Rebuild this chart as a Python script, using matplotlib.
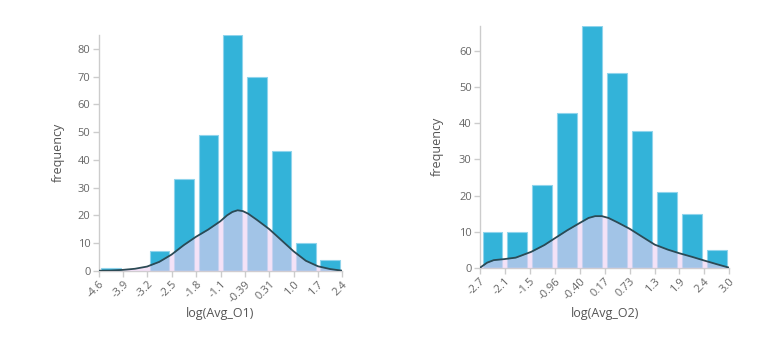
import numpy as np
import matplotlib
matplotlib.use("Agg")
import matplotlib.pyplot as plt

plt.rcParams['font.family'] = ['Open Sans', 'DejaVu Sans']

# log(Avg_O1) histogram
o1_lo, o1_bin = -4.59, 0.70
o1_counts = [1, 0, 7, 33, 49, 85, 70, 43, 10, 4]
o1_ticks = ["-4.6", "-3.9", "-3.2", "-2.5", "-1.8", "-1.1", "-0.39", "0.31", "1.0", "1.7", "2.4"]
o1_kde_x = [-4.59, -4.25, -3.9, -3.55, -3.2, -2.85, -2.5, -2.15, -1.8, -1.45, -1.1, -0.9,
            -0.75, -0.6, -0.45, -0.3, -0.04, 0.31, 0.66, 1.01, 1.36, 1.71, 2.06, 2.41]
o1_kde_y = [0, 0.05, 0.3, 0.7, 1.5, 3.2, 5.8, 9.2, 12.2, 14.8, 17.8, 20.0,
            21.2, 21.8, 21.5, 20.6, 18.3, 15.0, 11.0, 7.0, 3.6, 1.6, 0.6, 0]

# log(Avg_O2) histogram
o2_lo, o2_bin = -2.66, 0.565
o2_counts = [10, 10, 23, 43, 67, 54, 38, 21, 15, 5]
o2_ticks = ["-2.7", "-2.1", "-1.5", "-0.96", "-0.40", "0.17", "0.73", "1.3", "1.9", "2.4", "3.0"]
o2_kde_x = [-2.66, -2.5, -2.35, -2.1, -1.85, -1.5, -1.2, -0.96, -0.68, -0.40, -0.2, -0.05,
            0.1, 0.25, 0.45, 0.73, 1.0, 1.3, 1.6, 1.86, 2.15, 2.42, 2.7, 2.99]
o2_kde_y = [0, 1.4, 2.1, 2.4, 2.8, 4.4, 6.3, 8.2, 10.4, 12.4, 13.8, 14.3,
            14.3, 13.8, 12.6, 10.8, 8.7, 6.4, 5.0, 4.0, 3.0, 2.0, 1.0, 0]

BAR = '#33b3d9'
EDGE = '#8fd4ec'
FILL = '#eed0f2'
LINE = '#2c4a55'
AXC = '#cccccc'
TXT = '#666666'

fig = plt.figure(figsize=(7.78, 3.57), dpi=100)


def draw(rect, lo, binw, counts, ticks, kx, ky, xlabel, xl_y, yl_x):
    ax = fig.add_axes(rect)
    n = len(counts)
    edges = lo + binw * np.arange(n + 1)
    centers = edges[:-1] + binw / 2
    ax.bar(centers, counts, width=binw * 0.8, color=BAR, edgecolor=EDGE, linewidth=0.8, zorder=2)
    ax.fill_between(kx, ky, 0, color=FILL, alpha=0.6, linewidth=0, zorder=3)
    ax.plot(kx, ky, color=LINE, linewidth=1.3, zorder=4, solid_capstyle='round',
            solid_joinstyle='round')
    ax.set_xlim(edges[0], edges[-1])
    ax.set_ylim(0, max(counts))
    ax.set_xticks(edges)
    ax.set_xticklabels(ticks, rotation=45, ha='right', rotation_mode='anchor')
    ax.set_yticks(np.arange(0, max(counts) + 1, 10))
    for s in ['top', 'right']:
        ax.spines[s].set_visible(False)
    for s in ['left', 'bottom']:
        ax.spines[s].set_color(AXC)
        ax.spines[s].set_linewidth(1)
    ax.tick_params(colors=AXC, labelcolor=TXT, labelsize=8, length=4, width=1, pad=2)
    ax.set_xlabel(xlabel, fontsize=9, color='#555555')
    ax.set_ylabel('frequency', fontsize=9, color='#555555')
    ax.xaxis.set_label_coords(0.5, xl_y)
    ax.yaxis.set_label_coords(yl_x, 0.5)
    return ax


draw([0.1269, 0.2417, 0.3131, 0.6602], o1_lo, o1_bin, o1_counts, o1_ticks,
     o1_kde_x, o1_kde_y, 'log(Avg_O1)', -0.155, -0.14)
draw([0.617, 0.2501, 0.3204, 0.677], o2_lo, o2_bin, o2_counts, o2_ticks,
     o2_kde_x, o2_kde_y, 'log(Avg_O2)', -0.162, -0.144)

fig.savefig('out.png', dpi=100)
